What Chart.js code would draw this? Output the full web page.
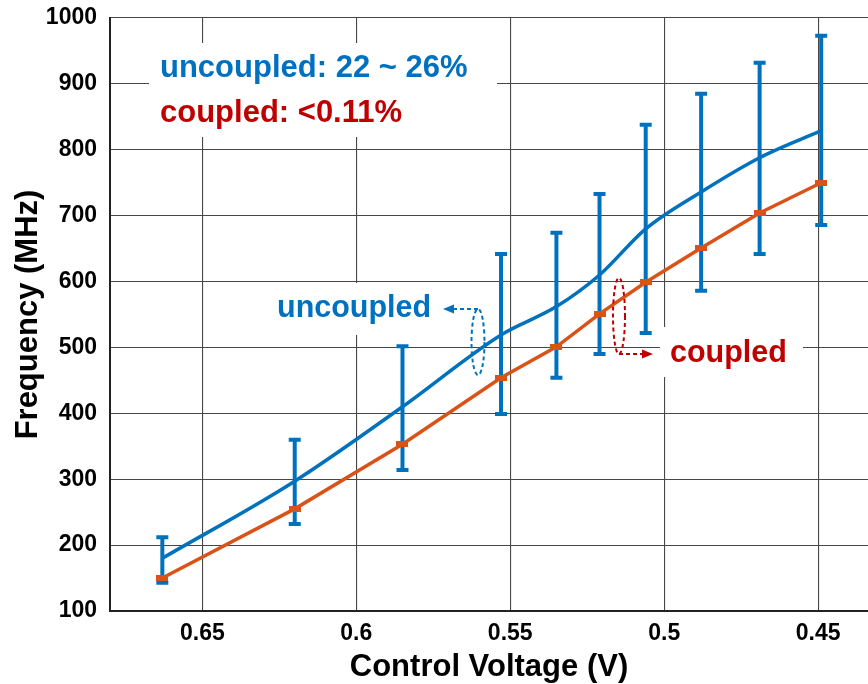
<!DOCTYPE html>
<html>
<head>
<meta charset="utf-8">
<script src="https://cdn.jsdelivr.net/npm/chart.js@4/dist/chart.umd.min.js"></script>
<style>
  html, body { margin: 0; padding: 0; background: #fff; }
  #wrap { width: 868px; height: 684px; }
</style>
</head>
<body>
<div id="wrap"><canvas id="c" width="868" height="684"></canvas></div>
<script>
// Control voltage sweep (V) and measured oscillation frequency (MHz)
const controlVoltage = [0.663, 0.620, 0.585, 0.553, 0.535, 0.521, 0.506, 0.488, 0.469, 0.449];
const uncoupledFreq  = [180, 297, 410, 519, 562, 610, 680, 736, 788, 829];
const uncoupledLow   = [143, 232, 314, 399, 454, 490, 522, 586, 642, 686];
const uncoupledHigh  = [212, 360, 502, 642, 674, 733, 838, 885, 932, 973];
const coupledFreq    = [150, 255, 353, 454, 501, 551, 599, 651, 704, 750];

const xTickValues = [0.65, 0.6, 0.55, 0.5, 0.45];
const xTickLabels = ['0.65', '0.6', '0.55', '0.5', '0.45'];
const yTickValues = [100, 200, 300, 400, 500, 600, 700, 800, 900, 1000];

const FONT = "'Liberation Sans', Arial, Helvetica, sans-serif";
const BLUE = '#0072BD';
const BLUE_TEXT = '#0070C0';
const ORANGE = '#D95319';
const RED_TEXT = '#C00000';
const GRID = '#474747';

// small horizontal bar marker for the coupled curve
const barMarker = document.createElement('canvas');
barMarker.width = 12; barMarker.height = 6;
(function () {
  const m = barMarker.getContext('2d');
  m.fillStyle = ORANGE;
  m.fillRect(0, 0, 12, 6);
})();

function dashedArrow(ctx, pts, color) {
  ctx.save();
  ctx.strokeStyle = color;
  ctx.fillStyle = color;
  ctx.lineWidth = 2;
  ctx.setLineDash([4, 3]);
  ctx.beginPath();
  ctx.moveTo(pts[0][0], pts[0][1]);
  for (let i = 1; i < pts.length; i++) ctx.lineTo(pts[i][0], pts[i][1]);
  ctx.stroke();
  ctx.setLineDash([]);
  const [tx, ty] = pts[pts.length - 1];
  const [px, py] = pts[pts.length - 2];
  const ang = Math.atan2(ty - py, tx - px);
  const hl = 11, hw = 4.5;
  ctx.beginPath();
  ctx.moveTo(tx, ty);
  ctx.lineTo(tx - hl * Math.cos(ang) - hw * Math.sin(ang), ty - hl * Math.sin(ang) + hw * Math.cos(ang));
  ctx.lineTo(tx - hl * Math.cos(ang) + hw * Math.sin(ang), ty - hl * Math.sin(ang) - hw * Math.cos(ang));
  ctx.closePath();
  ctx.fill();
  ctx.restore();
}

function dashedEllipse(ctx, cx, cy, rx, ry, color) {
  ctx.save();
  ctx.strokeStyle = color;
  ctx.lineWidth = 2;
  ctx.setLineDash([4, 3]);
  ctx.beginPath();
  ctx.ellipse(cx, cy, rx, ry, 0, 0, Math.PI * 2);
  ctx.stroke();
  ctx.restore();
}

const annotationPlugin = {
  id: 'annotations',
  beforeDatasetsDraw(chart) {
    const ctx = chart.ctx;
    const xs = chart.scales.x, ys = chart.scales.y;
    ctx.save();
    // white panels behind the text blocks
    ctx.fillStyle = '#ffffff';
    ctx.fillRect(149, 43, 348, 94);
    ctx.fillRect(268, 283, 178, 52);
    ctx.fillRect(660, 327, 143, 50);

    // spread of the uncoupled frequency
    ctx.strokeStyle = BLUE;
    ctx.lineWidth = 4;
    const cap = 6;
    for (let i = 0; i < controlVoltage.length; i++) {
      const x = xs.getPixelForValue(controlVoltage[i]);
      const yt = ys.getPixelForValue(uncoupledHigh[i]);
      const yb = ys.getPixelForValue(uncoupledLow[i]);
      ctx.beginPath();
      ctx.moveTo(x, yt); ctx.lineTo(x, yb);
      ctx.moveTo(x - cap, yt); ctx.lineTo(x + cap, yt);
      ctx.moveTo(x - cap, yb); ctx.lineTo(x + cap, yb);
      ctx.stroke();
    }
    ctx.restore();
  },
  afterDraw(chart) {
    const ctx = chart.ctx;
    ctx.save();
    ctx.textAlign = 'left';
    ctx.textBaseline = 'alphabetic';
    ctx.font = `bold 31px ${FONT}`;
    ctx.fillStyle = BLUE_TEXT;
    ctx.fillText('uncoupled: 22 ~ 26%', 160, 77);
    ctx.fillStyle = RED_TEXT;
    ctx.fillText('coupled: <0.11%', 160, 122);

    ctx.font = `bold 30.5px ${FONT}`;
    ctx.fillStyle = BLUE_TEXT;
    ctx.fillText('uncoupled', 277, 317);
    ctx.fillStyle = RED_TEXT;
    ctx.fillText('coupled', 670, 362);
    ctx.restore();

    dashedEllipse(ctx, 478, 342, 6.5, 33, BLUE);
    dashedArrow(ctx, [[478, 309], [443, 309]], BLUE);
    dashedEllipse(ctx, 619, 316, 6, 38, RED_TEXT);
    dashedArrow(ctx, [[619, 354], [653, 354]], RED_TEXT);
  }
};

const pts = (ys) => controlVoltage.map((v, i) => ({ x: v, y: ys[i] }));
const clearTick = 'rgba(0,0,0,0)';

new Chart(document.getElementById('c'), {
  type: 'line',
  data: {
    datasets: [
      {
        label: 'uncoupled',
        data: pts(uncoupledFreq),
        borderColor: BLUE,
        borderWidth: 3.5,
        pointRadius: 0,
        cubicInterpolationMode: 'monotone'
      },
      {
        label: 'coupled',
        data: pts(coupledFreq),
        borderColor: ORANGE,
        borderWidth: 3.5,
        pointStyle: barMarker,
        pointRadius: 6,
        tension: 0
      }
    ]
  },
  options: {
    responsive: false,
    animation: false,
    layout: { autoPadding: false, padding: { top: 18, right: 0, left: 0, bottom: 0 } },
    plugins: {
      legend: { display: false },
      tooltip: { enabled: false }
    },
    scales: {
      x: {
        type: 'linear',
        reverse: true,
        min: 0.4338,
        max: 0.68,
        afterBuildTicks: (s) => { s.ticks = xTickValues.map(v => ({ value: v })); },
        afterFit: (s) => { s.height = 73; s.paddingLeft = 0; s.paddingRight = 0; },
        ticks: {
          callback: (v, i) => xTickLabels[i],
          color: '#000',
          font: { family: FONT, size: 23, weight: 'bold' },
          padding: 0,
          maxRotation: 0,
          autoSkip: false
        },
        grid: { color: GRID, lineWidth: 1.1, drawTicks: true, tickLength: 9, tickColor: clearTick },
        border: { display: true, color: '#222', width: 2 },
        title: {
          display: true,
          text: 'Control Voltage (V)',
          color: '#000',
          font: { family: FONT, size: 31, weight: 'bold', lineHeight: 1 },
          padding: { top: 0, bottom: 1 }
        }
      },
      y: {
        min: 100,
        max: 1000,
        afterBuildTicks: (s) => { s.ticks = yTickValues.map(v => ({ value: v })); },
        afterFit: (s) => { s.width = 110; s.paddingTop = 0; s.paddingBottom = 0; },
        ticks: {
          callback: (v) => String(v),
          color: '#000',
          font: { family: FONT, size: 23, weight: 'bold' },
          padding: 0
        },
        grid: { color: GRID, lineWidth: 1.1, drawTicks: true, tickLength: 13, tickColor: clearTick },
        border: { display: true, color: '#222', width: 2 },
        title: {
          display: true,
          text: 'Frequency (MHz)',
          color: '#000',
          font: { family: FONT, size: 31, weight: 'bold', lineHeight: 1 },
          padding: { top: 13, bottom: 0 }
        }
      }
    }
  },
  plugins: [annotationPlugin]
});
</script>
</body>
</html>
